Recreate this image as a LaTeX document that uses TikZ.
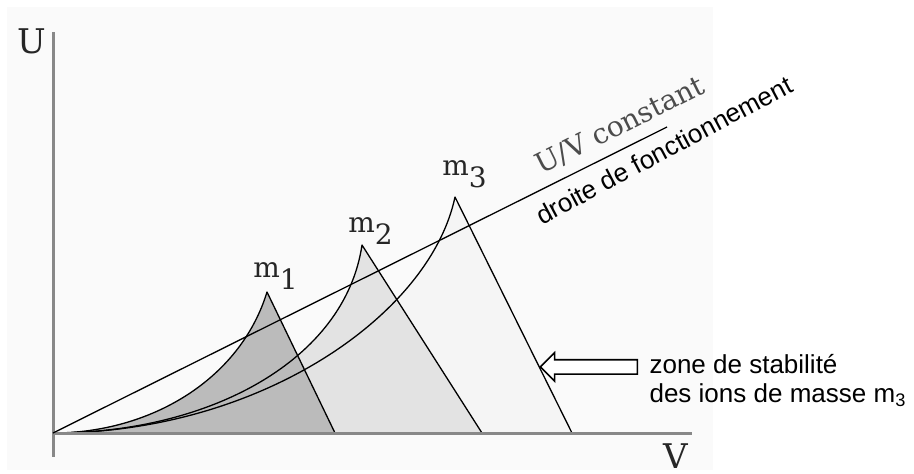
\documentclass[tikz,border=0pt]{standalone}
\usepackage{fontspec}
\setmainfont{DejaVu Serif}
\newfontfamily\arialfont{Liberation Sans}
\usetikzlibrary{shapes.arrows,positioning}

\definecolor{bggrey}{HTML}{FAFAFA}
\definecolor{axisgrey}{HTML}{888888}
\definecolor{zoneone}{HTML}{BBBBBB}
\definecolor{zonetwo}{HTML}{E3E3E3}
\definecolor{zonethree}{HTML}{F5F5F5}

% lowered index, as in the m labels
\newcommand{\idx}[1]{\raisebox{-.45em}{#1}}

\begin{document}
\begin{tikzpicture}[
  x=0.5pt,y=-0.5pt,
  axis/.style={draw=axisgrey,line width=1.5pt},
  curve/.style={draw=black,line width=0.65pt,line join=round},
  mlab/.style={anchor=base west,inner sep=0pt,font=\fontsize{14}{16}\selectfont,text=black!85},
  axlab/.style={inner sep=0pt,font=\fontsize{17}{19}\selectfont,text=black!85},
  note/.style={inner sep=0pt,align=left,font=\arialfont\fontsize{13}{14.5}\selectfont},
  bigarrow/.style={single arrow,draw,line width=0.8pt,fill=white,shape border rotate=180,
    minimum height=48.5pt,text height=3.2pt,text depth=3.2pt,text width=0pt,
    single arrow head extend=3.5pt,inner sep=0pt}
]
\useasboundingbox (0,0) rectangle (914,473);
\fill[bggrey] (7,7) rectangle (713,470);

\coordinate (O) at (53,433);
\coordinate (p1) at (267,292);
\coordinate (b1) at (335,433);
\coordinate (p2) at (362,245);
\coordinate (b2) at (482,433);
\coordinate (p3) at (455,197);
\coordinate (b3) at (572,433);
\coordinate (E) at (667,127);

% stability zones
\fill[zonethree] (O) .. controls (260,433) and (430,315) .. (p3) -- (b3) -- cycle;
\fill[zonetwo] (O) .. controls (210,433) and (345,360) .. (p2) -- (b2) -- cycle;
\fill[zoneone] (O) .. controls (150,433) and (240,380) .. (p1) -- (b1) -- cycle;
\draw[curve] (O) .. controls (260,433) and (430,315) .. (p3) -- (b3);
\draw[curve] (O) .. controls (210,433) and (345,360) .. (p2) -- (b2);
\draw[curve] (O) .. controls (150,433) and (240,380) .. (p1) -- (b1);

% axes
\draw[axis] (53,32) -- (53,457);
\draw[axis] (53,433) -- (692,433);
\node[axlab] (U) at (32,41) {U};
\node[axlab] (V) at (676,456) {V};

% operating line
\draw[curve] (O) -- (E) node[pos=.94,sloped,above=5pt,inner sep=0pt,
  font=\fontsize{14}{16}\selectfont,text=black!70] (uv) {U/V constant};
\node[rotate=28,inner sep=0pt,font=\arialfont\fontsize{13}{15}\selectfont] (droite) at (664,150) {droite de fonctionnement};

\node[mlab] (m1) at (253,277) {m\idx{1}};
\node[mlab] (m2) at (348,232) {m\idx{2}};
\node[mlab] (m3) at (442,175) {m\idx{3}};

% zone of m3
\path (p3) -- (b3) coordinate[pos=0.72] (tip3);
\node[bigarrow,anchor=tip] (arrow) at (tip3) {};
\node[note,anchor=north west] (zone) at ([shift={(11,-13)}]arrow.tail) {zone de stabilité\\des ions de masse m\textsubscript{3}};
\end{tikzpicture}
\end{document}
